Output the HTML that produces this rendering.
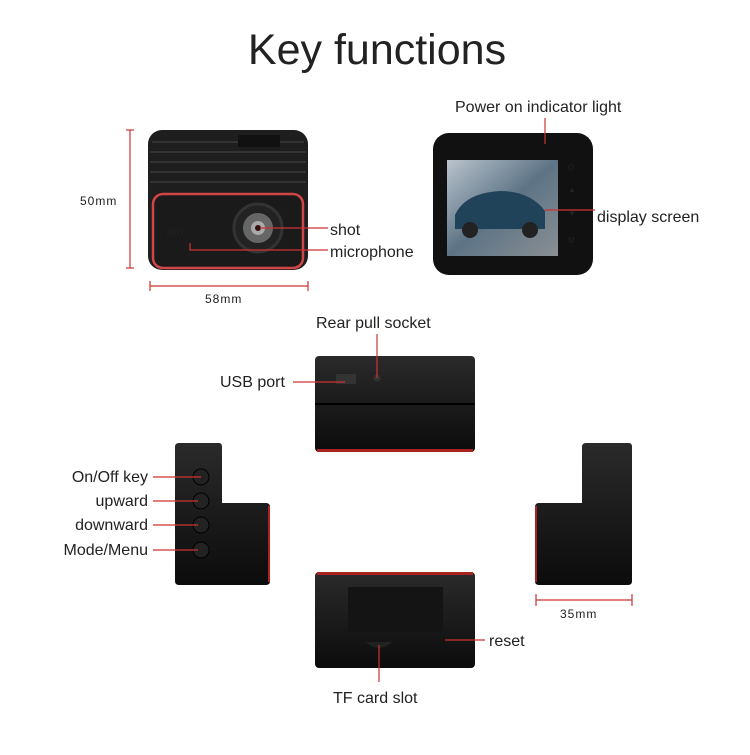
<!DOCTYPE html>
<html><head><meta charset="utf-8"><style>
body{margin:0;background:#fff;width:750px;height:750px;overflow:hidden}
text{font-family:"Liberation Sans",sans-serif;fill:#222}
</style></head><body>
<svg width="750" height="750" viewBox="0 0 750 750">
<defs>
<linearGradient id="bd" x1="0" y1="0" x2="0" y2="1"><stop offset="0" stop-color="#2a2a2a"/><stop offset="1" stop-color="#0c0c0c"/></linearGradient>
<linearGradient id="scr" x1="0" y1="0" x2="1" y2="1"><stop offset="0" stop-color="#b9c3cc"/><stop offset="0.5" stop-color="#5d7486"/><stop offset="1" stop-color="#8a8f93"/></linearGradient>
</defs>
<text x="377" y="64" font-size="43" text-anchor="middle" fill="#111">Key functions</text>

<!-- left camera -->
<g stroke="#c33" stroke-width="1.2" fill="none">
<line x1="130" y1="130" x2="130" y2="268"/><line x1="126" y1="130" x2="134" y2="130"/><line x1="126" y1="268" x2="134" y2="268"/>
<line x1="150" y1="286" x2="308" y2="286"/><line x1="150" y1="281" x2="150" y2="291"/><line x1="308" y1="281" x2="308" y2="291"/>
</g>
<text x="80" y="205" font-size="12" letter-spacing="1">50mm</text>
<text x="205" y="303" font-size="12" letter-spacing="1">58mm</text>
<rect x="148" y="130" width="160" height="140" rx="14" fill="#1e1e1e"/>
<g stroke="#333" stroke-width="2"><line x1="152" y1="142" x2="304" y2="142"/><line x1="150" y1="152" x2="306" y2="152"/><line x1="150" y1="162" x2="306" y2="162"/><line x1="150" y1="172" x2="306" y2="172"/><line x1="150" y1="182" x2="306" y2="182"/></g>
<rect x="238" y="135" width="42" height="12" fill="#111"/>
<rect x="153" y="194" width="150" height="74" rx="10" fill="#1a1a1a" stroke="#d04545" stroke-width="2.5"/>
<circle cx="258" cy="228" r="24" fill="#222" stroke="#333" stroke-width="3"/>
<circle cx="258" cy="228" r="15" fill="#666"/><circle cx="258" cy="228" r="7" fill="#aaa"/><circle cx="258" cy="228" r="3" fill="#311"/>
<text x="167" y="236" font-size="12" fill="#555">/////</text>
<g stroke="#c33" stroke-width="1.2" fill="none"><line x1="260" y1="228" x2="328" y2="228"/><polyline points="190,243 190,250 328,250"/></g>
<text x="330" y="235" font-size="16">shot</text>
<text x="330" y="257" font-size="16">microphone</text>

<!-- right camera -->
<rect x="433" y="133" width="160" height="142" rx="16" fill="#111"/>
<rect x="447" y="160" width="111" height="96" fill="url(#scr)"/>
<path d="M455 215 q10-22 45-24 q30 0 45 20 l0 18 l-90 0z" fill="#21435a"/>
<circle cx="470" cy="230" r="8" fill="#222"/><circle cx="530" cy="230" r="8" fill="#222"/>
<g fill="#ccc" font-size="8"><text x="568" y="170">⏻</text><text x="568" y="192">▲</text><text x="568" y="216">▼</text><text x="568" y="243">M</text></g>
<line x1="545" y1="118" x2="545" y2="144" stroke="#c33" stroke-width="1.2"/>
<line x1="545" y1="210" x2="595" y2="210" stroke="#c33" stroke-width="1.2"/>
<text x="455" y="112" font-size="16">Power on indicator light</text>
<text x="597" y="222" font-size="16">display screen</text>

<!-- top device -->
<rect x="315" y="356" width="160" height="96" rx="4" fill="url(#bd)"/>
<line x1="315" y1="404" x2="475" y2="404" stroke="#000" stroke-width="2"/>
<rect x="317" y="449" width="156" height="3" fill="#a22"/>
<rect x="336" y="374" width="20" height="10" fill="#333"/><circle cx="377" cy="378" r="3.5" fill="#333"/>
<line x1="377" y1="334" x2="377" y2="378" stroke="#c33" stroke-width="1.2"/>
<line x1="293" y1="382" x2="345" y2="382" stroke="#c33" stroke-width="1.2"/>
<text x="316" y="328" font-size="16">Rear pull socket</text>
<text x="220" y="387" font-size="16">USB port</text>

<!-- left device -->
<path d="M175 447 q0-4 4-4 h40 q3 0 3 4 v56 h44 q4 0 4 4 v74 q0 4-4 4 h-87 q-4 0-4-4z" fill="url(#bd)"/>
<rect x="268" y="506" width="2" height="76" fill="#a22"/>
<g fill="#222" stroke="#000"><circle cx="201" cy="477" r="8"/><circle cx="201" cy="501" r="8"/><circle cx="201" cy="525" r="8"/><circle cx="201" cy="550" r="8"/></g>
<g stroke="#c33" stroke-width="1.2"><line x1="153" y1="477" x2="201" y2="477"/><line x1="153" y1="501" x2="198" y2="501"/><line x1="153" y1="525" x2="198" y2="525"/><line x1="153" y1="550" x2="198" y2="550"/></g>
<g font-size="16" text-anchor="end"><text x="148" y="482">On/Off key</text><text x="148" y="506">upward</text><text x="148" y="530">downward</text><text x="148" y="555">Mode/Menu</text></g>

<!-- right device -->
<path d="M582 447 q0-4 4-4 h43 q3 0 3 4 v134 q0 4-4 4 h-89 q-4 0-4-4 v-74 q0-4 4-4 h43z" fill="url(#bd)"/>
<rect x="535" y="506" width="2" height="76" fill="#a22"/>
<g stroke="#c33" stroke-width="1.2"><line x1="536" y1="600" x2="632" y2="600"/><line x1="536" y1="594" x2="536" y2="606"/><line x1="632" y1="594" x2="632" y2="606"/></g>
<text x="560" y="618" font-size="12" letter-spacing="1">35mm</text>

<!-- bottom device -->
<rect x="315" y="572" width="160" height="96" rx="4" fill="url(#bd)"/>
<rect x="317" y="572" width="156" height="3" fill="#a22"/>
<rect x="348" y="587" width="95" height="45" fill="#141414"/>
<path d="M366 642 h26 q-13 12-26 0z" fill="#222"/>
<line x1="379" y1="645" x2="379" y2="682" stroke="#c33" stroke-width="1.2"/>
<line x1="445" y1="640" x2="485" y2="640" stroke="#c33" stroke-width="1.2"/>
<text x="489" y="646" font-size="16">reset</text>
<text x="333" y="703" font-size="16">TF card slot</text>
</svg>
</body></html>
